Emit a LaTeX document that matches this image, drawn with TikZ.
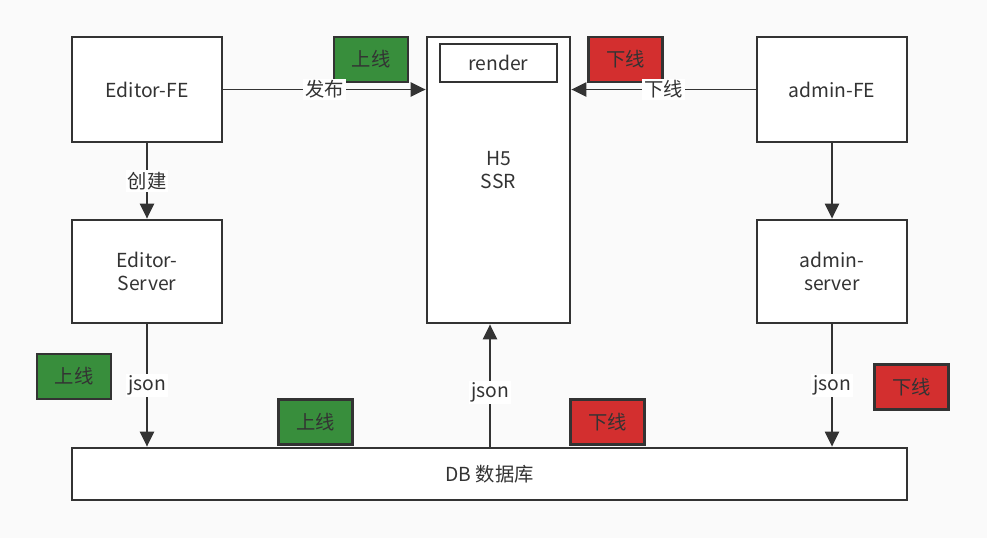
\documentclass[tikz,border=0pt]{standalone}
\usepackage{fontspec}
\setmainfont{Noto Sans CJK SC}
\usepackage{xcolor}
\usetikzlibrary{arrows.meta,positioning,calc}
\definecolor{bgray}{HTML}{FAFAFA}
\definecolor{ink}{HTML}{333333}
\definecolor{tagon}{HTML}{388E3C}
\definecolor{tagoff}{HTML}{D32F2F}
\tikzset{%
	box/.style    = {draw=ink, fill=white, line width=1.6pt, rectangle, text=ink, align=center, inner sep=0pt},
	onbox/.style  = {box, fill=tagon, minimum width=1.48cm, minimum height=0.9cm},
	offbox/.style = {box, fill=tagoff, minimum width=1.48cm, minimum height=0.9cm},
	arrow/.style  = {draw=ink, line width=1.1pt, -{Triangle[length=8.5pt,width=8pt]}},
	lbl/.style    = {fill=white, text=ink, inner sep=1pt},
}

\begin{document}
\begin{tikzpicture}[x=0.02cm, y=-0.02cm, font=\fontsize{11}{13.5}\selectfont]
	\fill[bgray] (0,0) rectangle (987,538);
	\useasboundingbox (0,0) rectangle (987,538);
	% main boxes
	\node[box, minimum width=3cm, minimum height=2.1cm] (efe) at (147,89.5) {Editor-FE};
	\node[box, minimum width=3cm, minimum height=2.1cm] (afe) at (832,89.5) {admin-FE};
	\node[box, minimum width=3cm, minimum height=2.06cm] (es) at (147,271.5) {Editor-\\Server};
	\node[box, minimum width=3cm, minimum height=2.06cm] (as) at (832,271.5) {admin-\\server};
	\node[box, minimum width=2.86cm, minimum height=5.72cm] (h5) at (498.5,180) {};
	\node[text=ink, align=center] (h5t) at (498.5,170) {H5\\SSR};
	\node[box, minimum width=2.34cm, minimum height=0.76cm] (render) at (498.5,63) {render};
	\node[box, minimum width=16.7cm, minimum height=1.04cm] (db) at (489.5,474) {DB 数据库};
	% tags
	\node[onbox] (on1) at (371,59.5) {上线};
	\node[offbox] (off1) at (625.5,59.5) {下线};
	\node[onbox] (on2) at (74,376.5) {上线};
	\node[onbox] (on3) at (315.5,422) {上线};
	\node[offbox] (off2) at (607.5,422) {下线};
	\node[offbox] (off3) at (911.5,387) {下线};
	% connectors
	\draw[arrow] (efe.east) -- node[lbl] {发布} (h5.west |- efe.east);
	\draw[arrow] (afe.west) -- node[lbl] {下线} (h5.east |- afe.west);
	\draw[arrow] (efe.south) -- node[lbl] {创建} (es.north);
	\draw[arrow] (afe.south) -- (as.north);
	\draw[arrow] (es.south) -- node[lbl] {json} (db.north -| es.south);
	\draw[arrow] (as.south) -- node[lbl] {json} (db.north -| as.south);
	\draw[arrow] (db.north -| 490,0) -- node[lbl, pos=0.44] {json} (h5.south -| 490,0);
\end{tikzpicture}
\end{document}
